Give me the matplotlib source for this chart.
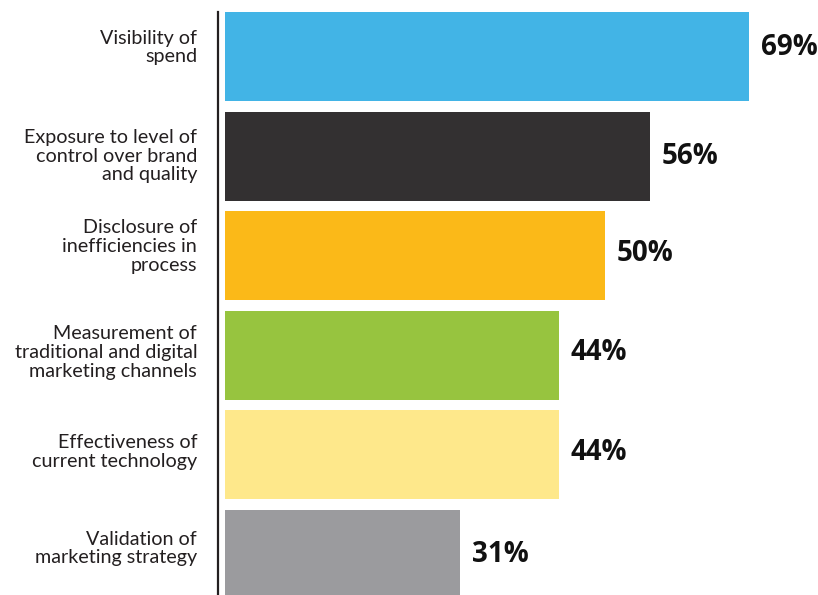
import matplotlib.pyplot as plt

# survey results, top to bottom
labels = [
    "Visibility of\nspend",
    "Exposure to level of\ncontrol over brand\nand quality",
    "Disclosure of\ninefficiencies in\nprocess",
    "Measurement of\ntraditional and digital\nmarketing channels",
    "Effectiveness of\ncurrent technology",
    "Validation of\nmarketing strategy",
]
values = [69, 56, 50, 44, 44, 31]
colors = ["#42b4e6", "#333031", "#fbb918", "#97c43f", "#fee88b", "#9b9b9e"]

W, H = 818, 595
fig = plt.figure(figsize=(W / 100, H / 100), dpi=100)

# axes spans from the spine (x=218px) to the right edge, top of first bar to bottom
left_px, top_px = 218, 12
ax = fig.add_axes([left_px / W, 0, 1 - left_px / W, 1 - top_px / H])

px_per_pct = (749 - 225) / 69.0
pitch = 99.6
ys = list(range(len(values)))
ax.barh(ys, values, height=89 / pitch, color=colors, left=0)

ax.set_xlim(-(225 - left_px) / px_per_pct, (W - 225) / px_per_pct)
ax.set_ylim((H - 56.5) / pitch, -44.5 / pitch)

for s in ["top", "right", "bottom"]:
    ax.spines[s].set_visible(False)
ax.spines["left"].set_linewidth(1.6)
ax.spines["left"].set_color("#231f20")
ax.set_xticks([])
ax.set_yticks([])

lab_dy = [9, 0, 9, 3, 3, 6]
val_dy = [9, 0, 2, 3, 2, 0]
for y, lab, v, d1, d2 in zip(ys, labels, values, lab_dy, val_dy):
    ax.annotate(lab, xy=(0, y), xycoords=("axes fraction", "data"),
                xytext=(-15, d1 * 0.72), textcoords="offset points",
                ha="right", va="center", fontsize=14.2, family="Lato",
                color="#231f20", linespacing=1.13)
    ax.annotate(f"{v}%", xy=(v, y), xytext=(8.5, d2 * 0.72),
                textcoords="offset points", ha="left", va="center",
                fontsize=20, fontweight="bold", family="Open Sans",
                color="#111111")

fig.savefig("out.png", dpi=100)
